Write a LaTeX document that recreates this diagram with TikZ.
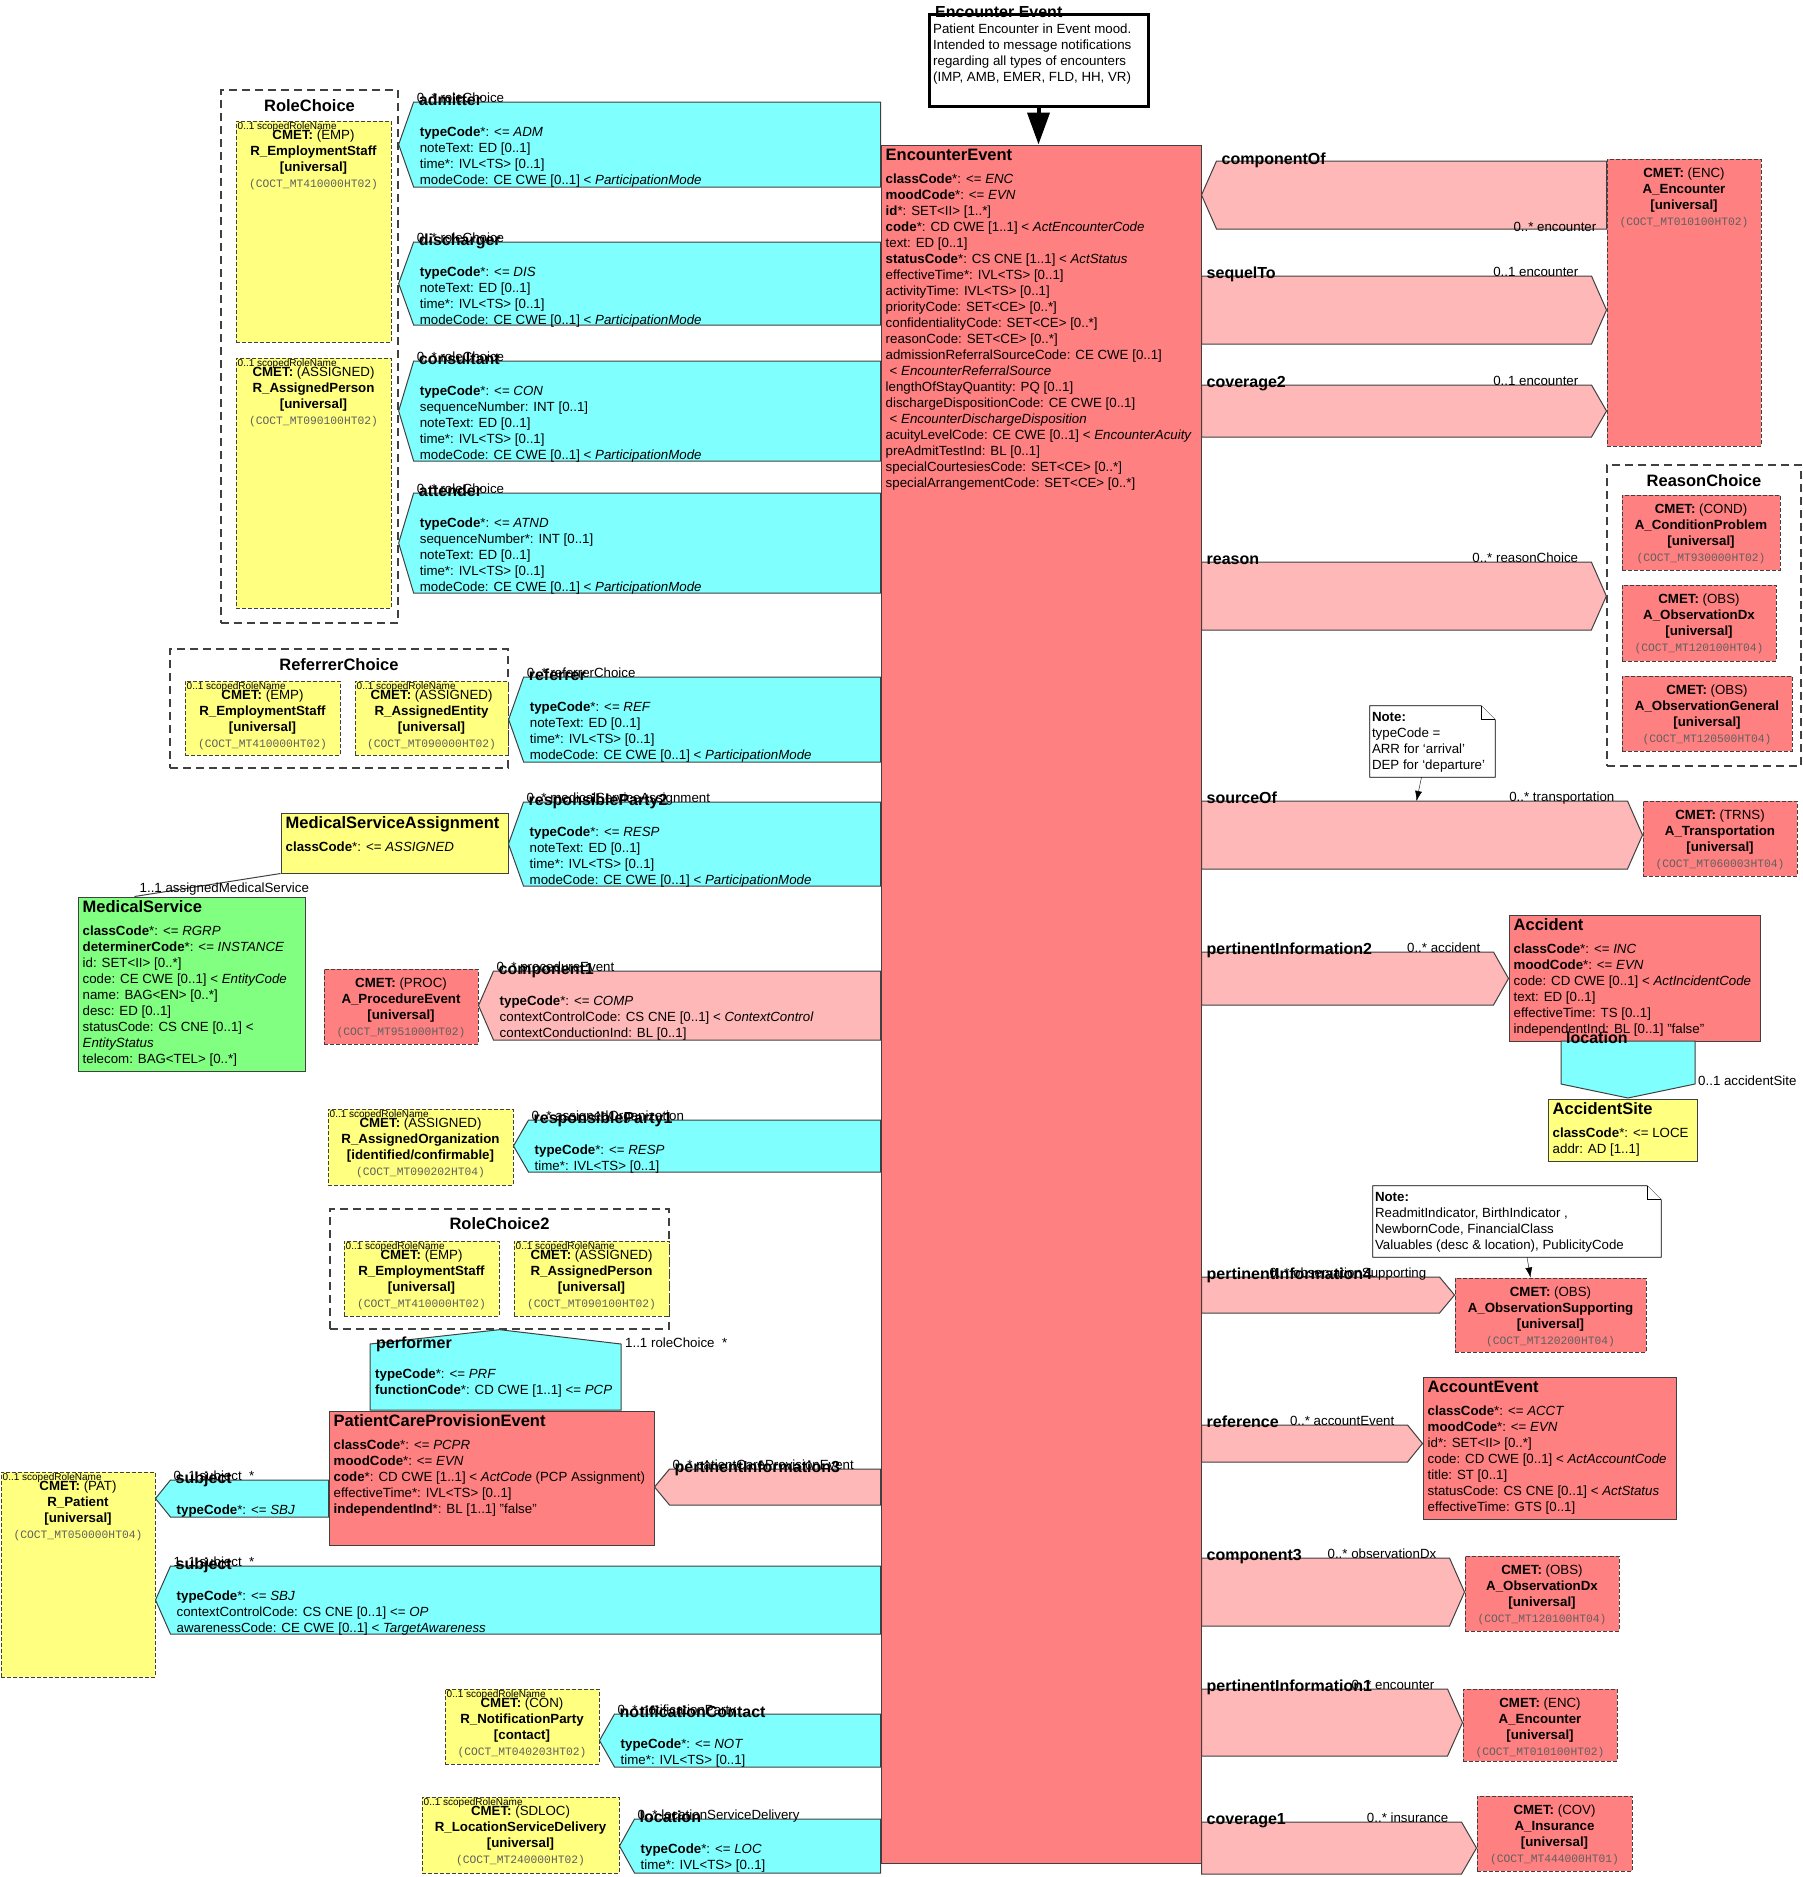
\documentclass[tikz,border=0pt]{standalone}
\usepackage{fontspec}
\setmainfont{Liberation Sans}
\setmonofont{Liberation Mono}
\usetikzlibrary{fit,calc,arrows.meta}

\definecolor{actred}{HTML}{FF8080}
\definecolor{actpink}{HTML}{FFB8B8}
\definecolor{partcyan}{HTML}{80FFFF}
\definecolor{roleyellow}{HTML}{FFFF80}
\definecolor{entgreen}{HTML}{80FF80}
\definecolor{edge}{HTML}{404040}
\definecolor{coctgray}{HTML}{606060}

\newcommand{\attrfont}{\fontsize{13.3}{16}\selectfont}
\newcommand{\coctfont}{\fontsize{11.3}{16}\selectfont\ttfamily\color{coctgray}}
\newcommand{\fl}{\rule{0pt}{10pt}}

\tikzset{
  umlbox/.style={inner sep=0pt, draw=edge, line width=1pt},
  actcls/.style={umlbox, fill=actred},
  rolecls/.style={umlbox, fill=roleyellow},
  entcls/.style={umlbox, fill=entgreen},
  actcmet/.style={actcls, dash pattern=on 4pt off 2pt},
  rolecmet/.style={rolecls, dash pattern=on 4pt off 2pt},
  choice/.style={umlbox, fill=white, line width=1.3pt, dash pattern=on 8pt off 5pt},
  clsttl/.style={anchor=base west, inner sep=0pt, font=\fontsize{16.5}{18}\selectfont\bfseries},
  chttl/.style={clsttl, anchor=base},
  attr/.style={anchor=north west, inner sep=0pt, align=left, font=\attrfont},
  cmettxt/.style={anchor=north, inner sep=0pt, align=center, font=\attrfont},
  scopedlbl/.style={anchor=north west, inner sep=2pt, font=\fontsize{10}{11}\selectfont},
  assoc/.style={anchor=base west, inner sep=0pt, font=\fontsize{16}{18}\selectfont\bfseries},
  mult/.style={anchor=base west, inner sep=0pt, font=\attrfont},
  partarr/.style={draw=edge, fill=partcyan, line width=1pt},
  relarr/.style={draw=edge, fill=actpink, line width=1pt},
  notestyle/.style={draw=black, fill=white, line width=0.8pt},
}

% CMET box: name, style, corner, corner, code, class, qualifier, artifact
\newcommand{\cmet}[8]{%
  \node[#2, fit={#3 #4}] (#1) {};
  \node[cmettxt] (#1-t) at ([yshift=-8.5pt]#1.north) {\fl\textbf{CMET:} (#5)\\ \textbf{#6}\\ \textbf{[#7]}\\ {\coctfont(#8)}};}

% class box: name, style, corner, corner, title, attributes
\newcommand{\cls}[6]{%
  \node[#2, fit={#3 #4}] (#1) {};
  \node[clsttl] (#1-n) at ([shift={(5,16)}]#1.north west) {#5};
  \node[attr] (#1-a) at ([shift={(5,28.5)}]#1.north west) {\fl #6};}

% arrow pointing left: name, style, tip node, body node, top, bottom, label, multiplicity, attributes
\newcommand{\partleft}[9]{%
  \pgfmathsetmacro\ymid{(#5+#6)/2}%
  \filldraw[#2] ($(#3.east |- 0,#5)+(15,0)$) coordinate (#1-s)
    -- (#4.west |- 0,#5) -- (#4.west |- 0,#6)
    -- ($(#3.east |- 0,#6)+(15,0)$) -- (#3.east |- 0,\ymid) -- cycle;
  \node[mult] (#1-m) at ([xshift=3pt]#1-s) {#8};
  \node[assoc] (#1-l) at ([shift={(5,3)}]#1-s) {#7};
  \node[attr] (#1-a) at ([shift={(6,24.5)}]#1-s) {\fl #9};}

% arrow pointing right: name, style, from node, target node, top, bottom, label, multiplicity
\newcommand{\partright}[8]{%
  \pgfmathsetmacro\ymid{(#5+#6)/2}%
  \filldraw[#2] (#3.east |- 0,#5) coordinate (#1-s)
    -- ($(#4.west |- 0,#5)+(-15,0)$) coordinate (#1-e)
    -- (#4.west |- 0,\ymid) -- ($(#4.west |- 0,#6)+(-15,0)$)
    -- (#3.east |- 0,#6) -- cycle;
  \node[assoc] (#1-l) at ([shift={(5,2)}]#1-s) {#7};
  \node[mult, anchor=base east] (#1-m) at ([xshift=-13pt]#1-e) {#8};}

% note with folded corner: name, corner, corner
\newcommand{\fold}[3]{%
  \node[fit={#2 #3}, inner sep=0pt] (#1) {};
  \filldraw[notestyle] (#1.north west) -- ($(#1.north east)+(-14,0)$) -- ($(#1.north east)+(0,14)$)
    -- (#1.south east) -- (#1.south west) -- cycle;
  \draw[notestyle] ($(#1.north east)+(-14,0)$) |- ($(#1.north east)+(0,14)$);}

\begin{document}
\begin{tikzpicture}[x=1pt,y=-1pt]
\useasboundingbox (0,0) rectangle (1803,1877);

% choice boxes
\node[choice, fit={(221,90) (398,623)}] (rolech) {};
\node[chttl] (rolech-n) at ([yshift=-22pt]rolech.north) {RoleChoice};
\node[choice, fit={(170,649) (508,768)}] (refch) {};
\node[chttl] (refch-n) at ([yshift=-22pt]refch.north) {ReferrerChoice};
\node[choice, fit={(330,1209) (669,1329)}] (rolech2) {};
\node[chttl] (rolech2-n) at ([yshift=-21pt]rolech2.north) {RoleChoice2};
\node[choice, fit={(1607,465) (1801,766)}] (reasch) {};
\node[chttl] (reasch-n) at ([yshift=-22pt]reasch.north) {ReasonChoice};

% role CMETs
\cmet{rcEmp}{rolecmet}{(236,121)}{(391,342)}{EMP}{R\_EmploymentStaff}{universal}{COCT\_MT410000HT02}
\cmet{rcAsg}{rolecmet}{(236,358)}{(391,608)}{ASSIGNED}{R\_AssignedPerson}{universal}{COCT\_MT090100HT02}
\cmet{refEmp}{rolecmet}{(185,681)}{(340,755)}{EMP}{R\_EmploymentStaff}{universal}{COCT\_MT410000HT02}
\cmet{refEnt}{rolecmet}{(355,681)}{(508,755)}{ASSIGNED}{R\_AssignedEntity}{universal}{COCT\_MT090000HT02}
\cmet{orgAsg}{rolecmet}{(328,1109)}{(513,1185)}{ASSIGNED}{R\_AssignedOrganization}{identified/confirmable}{COCT\_MT090202HT04}
\cmet{rc2Emp}{rolecmet}{(344,1241)}{(499,1316)}{EMP}{R\_EmploymentStaff}{universal}{COCT\_MT410000HT02}
\cmet{rc2Asg}{rolecmet}{(514,1241)}{(669,1316)}{ASSIGNED}{R\_AssignedPerson}{universal}{COCT\_MT090100HT02}
\cmet{patient}{rolecmet}{(1,1472)}{(155,1677)}{PAT}{R\_Patient}{universal}{COCT\_MT050000HT04}
\cmet{notif}{rolecmet}{(445,1689)}{(599,1764)}{CON}{R\_NotificationParty}{contact}{COCT\_MT040203HT02}
\cmet{locsd}{rolecmet}{(422,1797)}{(619,1873)}{SDLOC}{R\_LocationServiceDelivery}{universal}{COCT\_MT240000HT02}
\foreach \r in {rcEmp,rcAsg,refEmp,refEnt,orgAsg,rc2Emp,rc2Asg,patient,notif,locsd}
  \node[scopedlbl] (\r-sc) at (\r.north west) {0..1 scopedRoleName};

% act CMETs
\cmet{encA}{actcmet}{(1607,159)}{(1761,446)}{ENC}{A\_Encounter}{universal}{COCT\_MT010100HT02}
\cmet{condProb}{actcmet}{(1622,495)}{(1780,570)}{COND}{A\_ConditionProblem}{universal}{COCT\_MT930000HT02}
\cmet{obsDx}{actcmet}{(1622,585)}{(1776,661)}{OBS}{A\_ObservationDx}{universal}{COCT\_MT120100HT04}
\cmet{obsGen}{actcmet}{(1622,676)}{(1792,751)}{OBS}{A\_ObservationGeneral}{universal}{COCT\_MT120500HT04}
\cmet{trans}{actcmet}{(1643,801)}{(1797,876)}{TRNS}{A\_Transportation}{universal}{COCT\_MT060003HT04}
\cmet{procEv}{actcmet}{(324,969)}{(478,1044)}{PROC}{A\_ProcedureEvent}{universal}{COCT\_MT951000HT02}
\cmet{obsSupp}{actcmet}{(1455,1278)}{(1646,1352)}{OBS}{A\_ObservationSupporting}{universal}{COCT\_MT120200HT04}
\cmet{obsDx2}{actcmet}{(1465,1556)}{(1619,1631)}{OBS}{A\_ObservationDx}{universal}{COCT\_MT120100HT04}
\cmet{enc2}{actcmet}{(1463,1689)}{(1617,1761)}{ENC}{A\_Encounter}{universal}{COCT\_MT010100HT02}
\cmet{ins}{actcmet}{(1477,1796)}{(1632,1871)}{COV}{A\_Insurance}{universal}{COCT\_MT444000HT01}

% classes
\cls{ee}{actcls}{(881,145)}{(1201,1863)}{EncounterEvent}{\textbf{classCode}*: <= \textit{ENC}\\
  \textbf{moodCode}*: <= \textit{EVN}\\
  \textbf{id}*: SET<II> [1..*]\\
  \textbf{code}*: CD CWE [1..1] < \textit{ActEncounterCode}\\
  text: ED [0..1]\\
  \textbf{statusCode}*: CS CNE [1..1] < \textit{ActStatus}\\
  effectiveTime*: IVL<TS> [0..1]\\
  activityTime: IVL<TS> [0..1]\\
  priorityCode: SET<CE> [0..*]\\
  confidentialityCode: SET<CE> [0..*]\\
  reasonCode: SET<CE> [0..*]\\
  admissionReferralSourceCode: CE CWE [0..1]\\
  \hspace*{4pt}< \textit{EncounterReferralSource}\\
  lengthOfStayQuantity: PQ [0..1]\\
  dischargeDispositionCode: CE CWE [0..1]\\
  \hspace*{4pt}< \textit{EncounterDischargeDisposition}\\
  acuityLevelCode: CE CWE [0..1] < \textit{EncounterAcuity}\\
  preAdmitTestInd: BL [0..1]\\
  specialCourtesiesCode: SET<CE> [0..*]\\
  specialArrangementCode: SET<CE> [0..*]}
\cls{msa}{rolecls}{(281,813)}{(508,873)}{MedicalServiceAssignment}{\textbf{classCode}*: <= \textit{ASSIGNED}}
\cls{ms}{entcls}{(78,897)}{(305,1071)}{MedicalService}{\textbf{classCode}*: <= \textit{RGRP}\\
  \textbf{determinerCode}*: <= \textit{INSTANCE}\\
  id: SET<II> [0..*]\\
  code: CE CWE [0..1] < \textit{EntityCode}\\
  name: BAG<EN> [0..*]\\
  desc: ED [0..1]\\
  statusCode: CS CNE [0..1] <\\
  \textit{EntityStatus}\\
  telecom: BAG<TEL> [0..*]}
\cls{pcpe}{actcls}{(329,1411)}{(654,1545)}{PatientCareProvisionEvent}{\textbf{classCode}*: <= \textit{PCPR}\\
  \textbf{moodCode}*: <= \textit{EVN}\\
  \textbf{code}*: CD CWE [1..1] < \textit{ActCode} (PCP Assignment)\\
  effectiveTime*: IVL<TS> [0..1]\\
  \textbf{independentInd}*: BL [1..1] "false"}
\cls{acc}{actcls}{(1509,915)}{(1760,1041)}{Accident}{\textbf{classCode}*: <= \textit{INC}\\
  \textbf{moodCode}*: <= \textit{EVN}\\
  code: CD CWE [0..1] < \textit{ActIncidentCode}\\
  text: ED [0..1]\\
  effectiveTime: TS [0..1]\\
  independentInd: BL [0..1] "false"}
\cls{accsite}{rolecls}{(1548,1099)}{(1697,1161)}{AccidentSite}{\textbf{classCode}*: <= LOCE\\
  addr: AD [1..1]}
\cls{acct}{actcls}{(1423,1377)}{(1676,1519)}{AccountEvent}{\textbf{classCode}*: <= \textit{ACCT}\\
  \textbf{moodCode}*: <= \textit{EVN}\\
  id*: SET<II> [0..*]\\
  code: CD CWE [0..1] < \textit{ActAccountCode}\\
  title: ST [0..1]\\
  statusCode: CS CNE [0..1] < \textit{ActStatus}\\
  effectiveTime: GTS [0..1]}

% participations on the left
\partleft{adm}{partarr}{rolech}{ee}{102}{187}{admitter}{0..* roleChoice}{\textbf{typeCode}*: <= \textit{ADM}\\
  noteText: ED [0..1]\\time*: IVL<TS> [0..1]\\modeCode: CE CWE [0..1] < \textit{ParticipationMode}}
\partleft{dis}{partarr}{rolech}{ee}{242}{325}{discharger}{0..* roleChoice}{\textbf{typeCode}*: <= \textit{DIS}\\
  noteText: ED [0..1]\\time*: IVL<TS> [0..1]\\modeCode: CE CWE [0..1] < \textit{ParticipationMode}}
\partleft{con}{partarr}{rolech}{ee}{361}{461}{consultant}{0..* roleChoice}{\textbf{typeCode}*: <= \textit{CON}\\
  sequenceNumber: INT [0..1]\\noteText: ED [0..1]\\time*: IVL<TS> [0..1]\\modeCode: CE CWE [0..1] < \textit{ParticipationMode}}
\partleft{atn}{partarr}{rolech}{ee}{493}{593}{attender}{0..* roleChoice}{\textbf{typeCode}*: <= \textit{ATND}\\
  sequenceNumber*: INT [0..1]\\noteText: ED [0..1]\\time*: IVL<TS> [0..1]\\modeCode: CE CWE [0..1] < \textit{ParticipationMode}}
\partleft{refr}{partarr}{refch}{ee}{677}{762}{referrer}{0..* referrerChoice}{\textbf{typeCode}*: <= \textit{REF}\\
  noteText: ED [0..1]\\time*: IVL<TS> [0..1]\\modeCode: CE CWE [0..1] < \textit{ParticipationMode}}
\partleft{rsp2}{partarr}{msa}{ee}{802}{886}{responsibleParty2}{0..* medicalServiceAssignment}{\textbf{typeCode}*: <= \textit{RESP}\\
  noteText: ED [0..1]\\time*: IVL<TS> [0..1]\\modeCode: CE CWE [0..1] < \textit{ParticipationMode}}
\partleft{cmp1}{relarr}{procEv}{ee}{971}{1040}{component1}{0..* procedureEvent}{\textbf{typeCode}*: <= \textit{COMP}\\
  contextControlCode: CS CNE [0..1] < \textit{ContextControl}\\contextConductionInd: BL [0..1]}
\partleft{rsp1}{partarr}{orgAsg}{ee}{1120}{1172}{responsibleParty1}{0..* assignedOrganization}{\textbf{typeCode}*: <= \textit{RESP}\\
  time*: IVL<TS> [0..1]}
\partleft{pi3}{relarr}{pcpe}{ee}{1469}{1505}{pertinentInformation3}{0..* patientCareProvisionEvent}{}
\partleft{sbj1}{partarr}{patient}{pcpe}{1480}{1517}{subject}{0..1 subject\ \ *}{\textbf{typeCode}*: <= \textit{SBJ}}
\partleft{sbj2}{partarr}{patient}{ee}{1566}{1634}{subject}{1..1 subject\ \ *}{\textbf{typeCode}*: <= \textit{SBJ}\\
  contextControlCode: CS CNE [0..1] <= \textit{OP}\\awarenessCode: CE CWE [0..1] < \textit{TargetAwareness}}
\partleft{ntf}{partarr}{notif}{ee}{1714}{1767}{notificationContact}{0..* notificationParty}{\textbf{typeCode}*: <= \textit{NOT}\\
  time*: IVL<TS> [0..1]}
\partleft{loc}{partarr}{locsd}{ee}{1819}{1873}{location}{0..* locationServiceDelivery}{\textbf{typeCode}*: <= \textit{LOC}\\
  time*: IVL<TS> [0..1]}

% act relationships on the right
\partleft{cof}{relarr}{ee}{encA}{161}{229}{componentOf}{}{}
\node[mult, anchor=base east] (cof-mb) at ($(encA.west |- 0,229)+(-10,2)$) {0..* encounter};
\partright{sqt}{relarr}{ee}{encA}{276}{344}{sequelTo}{0..1 encounter}
\partright{cov2}{relarr}{ee}{encA}{385}{437}{coverage2}{0..1 encounter}
\partright{rsn}{relarr}{ee}{reasch}{562}{630}{reason}{0..* reasonChoice}
\partright{src}{relarr}{ee}{trans}{801}{869}{sourceOf}{0..* transportation}
\partright{pi2}{relarr}{ee}{acc}{952}{1005}{pertinentInformation2}{0..* accident}
\partright{pi4}{relarr}{ee}{obsSupp}{1277}{1313}{pertinentInformation4}{0..* observationSupporting}
\partright{rfc}{relarr}{ee}{acct}{1425}{1462}{reference}{0..* accountEvent}
\partright{cmp3}{relarr}{ee}{obsDx2}{1558}{1626}{component3}{0..* observationDx}
\partright{pi1}{relarr}{ee}{enc2}{1689}{1756}{pertinentInformation1}{0..* encounter}
\partright{cov1}{relarr}{ee}{ins}{1822}{1874}{coverage1}{0..* insurance}

% performer (up) and location (down)
\filldraw[partarr] (370,1410) -- (370,1344) -- (rolech2.south) -- (621,1344) -- (621,1410) -- cycle;
\node[assoc] (perf-l) at (376,1348) {performer};
\node[mult] (perf-m) at (625,1347) {1..1 roleChoice\ \ *};
\node[attr] (perf-a) at (375,1368.5) {\fl\textbf{typeCode}*: <= \textit{PRF}\\\textbf{functionCode}*: CD CWE [1..1] <= \textit{PCP}};
\filldraw[partarr] (1561,1041) -- (1561,1084) -- (1628,1098) -- (1695,1084) -- (1695,1041) -- cycle;
\node[assoc] (aloc-l) at (1566,1043) {location};
\node[mult] (aloc-m) at (1698,1085) {0..1 accidentSite};

% medical service association
\draw[edge, line width=1pt] (msa.south west) -- ($(ms.north west)+(57,0)$);
\node[mult] (ms-m) at ($(ms.north west)+(62,-4)$) {1..1 assignedMedicalService};

% notes
\node[fit={(929,14) (1148,106)}, inner sep=0pt, draw=black, fill=white, line width=3pt] (encnote) {};
\node[assoc] (encnote-n) at (935,17.5) {Encounter Event};
\node[attr] (encnote-t) at (933,23.75) {\fl Patient Encounter in Event mood.\\Intended to message notifications\\regarding all types of encounters\\(IMP, AMB, EMER, FLD, HH, VR)};
\draw[line width=4pt, -{Triangle[length=32pt,width=22pt]}] (encnote.south) -- (encnote.south |- ee.north);

\fold{note1}{(1370,706)}{(1495,777)}
\node[attr] (note1-t) at ([shift={(2,5.75)}]note1.north west) {\fl\textbf{Note:}\\typeCode =\\ARR for `arrival'\\DEP for `departure'};
\draw[-{Latex[length=10pt,width=7pt]}] ($(note1.south)+(-11,0)$) -- ($(src-s)+(215,0)$);

\fold{note2}{(1373,1186)}{(1661,1257)}
\node[attr] (note2-t) at ([shift={(2,5.75)}]note2.north west) {\fl\textbf{Note:}\\ReadmitIndicator, BirthIndicator ,\\NewbornCode, FinancialClass\\Valuables (desc \& location), PublicityCode};
\draw[-{Latex[length=10pt,width=7pt]}] ($(note2.south)+(10,0)$) -- ([xshift=-20pt]obsSupp.north);
\end{tikzpicture}
\end{document}
